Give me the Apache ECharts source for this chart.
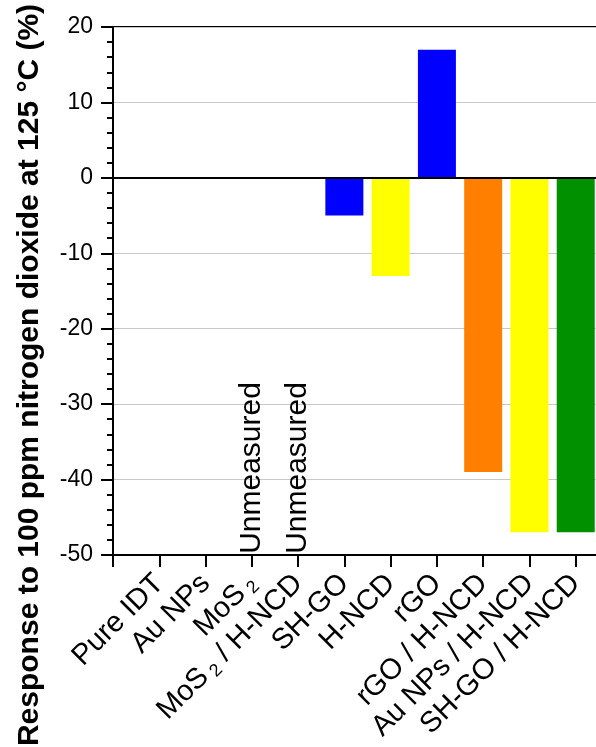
<!DOCTYPE html>
<html>
<head>
<meta charset="utf-8">
<script src="https://cdn.jsdelivr.net/npm/echarts@6/dist/echarts.min.js"></script>
<style>
html,body{margin:0;padding:0;background:#fff;}
#c{width:596px;height:747px;}
</style>
</head>
<body>
<div id="c"></div>
<script>
const categories = ['Pure IDT','Au NPs','MoS2','MoS2 / H-NCD','SH-GO','H-NCD','rGO','rGO / H-NCD','Au NPs / H-NCD','SH-GO / H-NCD'];
const responses = [null, null, null, null, -5, -13, 17, -39, -47, -47];
const barColors = ['#0000ff','#0000ff','#0000ff','#0000ff','#0000ff','#ffff00','#0000ff','#ff8000','#ffff00','#009000'];
const unmeasured = ['MoS2','MoS2 / H-NCD'];
const yTicks = [-50, -40, -30, -20, -10, 0, 10, 20];
const yTitle = 'Response to 100 ppm nitrogen dioxide at 125 °C (%)';

const FONT = "'Liberation Sans', Arial, Helvetica, sans-serif";
const chart = echarts.init(document.getElementById('c'), null, {renderer:'canvas'});

const barData = [];
categories.forEach((c, i) => {
  if (responses[i] !== null) {
    barData.push({value:[i, responses[i]], itemStyle:{color: barColors[i]}});
  }
});
const unData = unmeasured.map(n => ({value:[categories.indexOf(n), yTicks[0] + 0.15]}));

function fmtCat(v){
  const s = categories[v];
  if (s === undefined) return '';
  return s.replace(/MoS2/g, 'MoS{sub|2}');
}

chart.setOption({
  animation:false,
  backgroundColor:'#fff',
  textStyle:{fontFamily:FONT},
  grid:{left:113, top:27, bottom:192, width:509, containLabel:false, outerBoundsMode:'none',
        show:true, borderColor:'#000', borderWidth:2, backgroundColor:'transparent'},
  xAxis:{
    type:'value', min:-1, max:10, interval:1,
    axisLine:{show:true, onZero:false, lineStyle:{color:'#000', width:2}},
    axisTick:{show:true, length:12, inside:false, lineStyle:{color:'#000', width:2}},
    splitLine:{show:false},
    axisLabel:{
      rotate:45, fontSize:29, color:'#000', margin:24, fontFamily:FONT,
      showMinLabel:true, showMaxLabel:true, hideOverlap:false,
      formatter: fmtCat,
      rich:{sub:{fontSize:18, fontFamily:FONT, color:'#000', verticalAlign:'top', padding:[14,0,0,5]}}
    }
  },
  yAxis:{
    type:'value', min:yTicks[0], max:yTicks[yTicks.length-1], interval:10,
    axisLine:{show:true, onZero:false, lineStyle:{color:'#000', width:2}},
    axisTick:{show:true, length:12, lineStyle:{color:'#000', width:2}},
    minorTick:{show:true, splitNumber:5, length:6, lineStyle:{color:'#000', width:2}},
    splitLine:{show:true, lineStyle:{color:'#c8c8c8', width:1}},
    axisLabel:{fontSize:23, color:'#000', margin:20, fontFamily:FONT},
    name: yTitle,
    nameLocation:'middle',
    nameRotate:90,
    nameGap:68,
    nameTextStyle:{fontSize:30, fontWeight:'bold', color:'#000', fontFamily:FONT, padding:[0,168,0,0]}
  },
  series:[
    {
      type:'bar',
      data: barData,
      barWidth:38,
      markLine:{
        silent:true, symbol:['none','none'], label:{show:false},
        lineStyle:{color:'#000', width:2, type:'solid'},
        data:[{yAxis:0}]
      }
    },
    {
      type:'scatter',
      data: unData,
      symbolSize:0,
      silent:true,
      itemStyle:{opacity:1},
      label:{
        show:true, formatter:'Unmeasured', rotate:90, position:'inside', opacity:1,
        align:'left', verticalAlign:'middle', fontSize:30, color:'#000', fontFamily:FONT
      }
    }
  ]
});
</script>
</body>
</html>
